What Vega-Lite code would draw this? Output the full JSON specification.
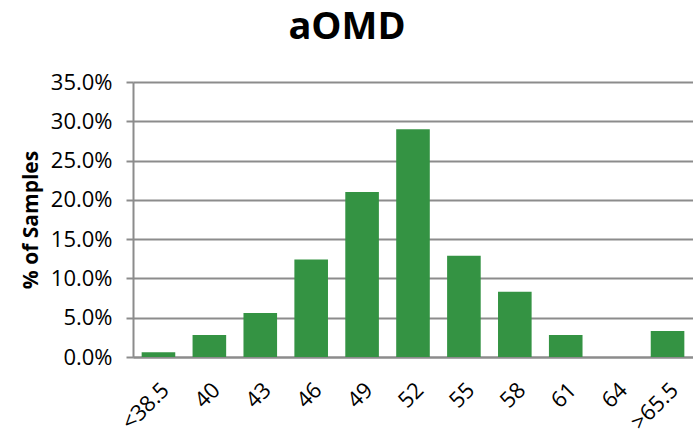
{
  "$schema": "https://vega.github.io/schema/vega-lite/v6.json",
  "width": 560,
  "height": 275,
  "autosize": "none",
  "padding": {"left": 133, "top": 82, "right": 0, "bottom": 77},
  "background": "white",
  "title": {
    "text": "aOMD",
    "font": "Open Sans",
    "fontSize": 38,
    "fontWeight": "bold",
    "color": "#000000",
    "anchor": "middle",
    "dx": -66,
    "offset": 24
  },
  "data": {
    "values": [
      {"bin": "<38.5", "pct": 0.006},
      {"bin": "40", "pct": 0.028},
      {"bin": "43", "pct": 0.056},
      {"bin": "46", "pct": 0.124},
      {"bin": "49", "pct": 0.21},
      {"bin": "52", "pct": 0.29},
      {"bin": "55", "pct": 0.129},
      {"bin": "58", "pct": 0.083},
      {"bin": "61", "pct": 0.028},
      {"bin": "64", "pct": 0.0},
      {"bin": ">65.5", "pct": 0.033}
    ]
  },
  "mark": {"type": "bar", "color": "#349343"},
  "encoding": {
    "x": {
      "field": "bin",
      "type": "nominal",
      "sort": null,
      "scale": {"paddingInner": 0.34, "paddingOuter": 0.17},
      "axis": {
        "title": null,
        "labelAngle": -45,
        "labelFont": "Open Sans",
        "labelFontSize": 22,
        "labelColor": "#000000",
        "labelPadding": 22,
        "ticks": false,
        "domainColor": "#8c8c8c",
        "domainWidth": 2,
        "grid": false
      }
    },
    "y": {
      "field": "pct",
      "type": "quantitative",
      "scale": {"domain": [0, 0.35], "nice": false},
      "axis": {
        "title": "% of Samples",
        "titleFont": "Open Sans",
        "titleFontSize": 21,
        "titleFontWeight": "bold",
        "titleColor": "#000000",
        "titlePadding": 9,
        "format": ".1%",
        "values": [0, 0.05, 0.1, 0.15, 0.2, 0.25, 0.3, 0.35],
        "labelFont": "Open Sans",
        "labelFontSize": 22,
        "labelColor": "#000000",
        "labelPadding": 14,
        "tickSize": 7,
        "tickColor": "#8c8c8c",
        "tickWidth": 2,
        "domainColor": "#8c8c8c",
        "domainWidth": 2,
        "gridColor": "#8c8c8c",
        "gridWidth": 2
      }
    }
  },
  "config": {"view": {"stroke": null}}
}
